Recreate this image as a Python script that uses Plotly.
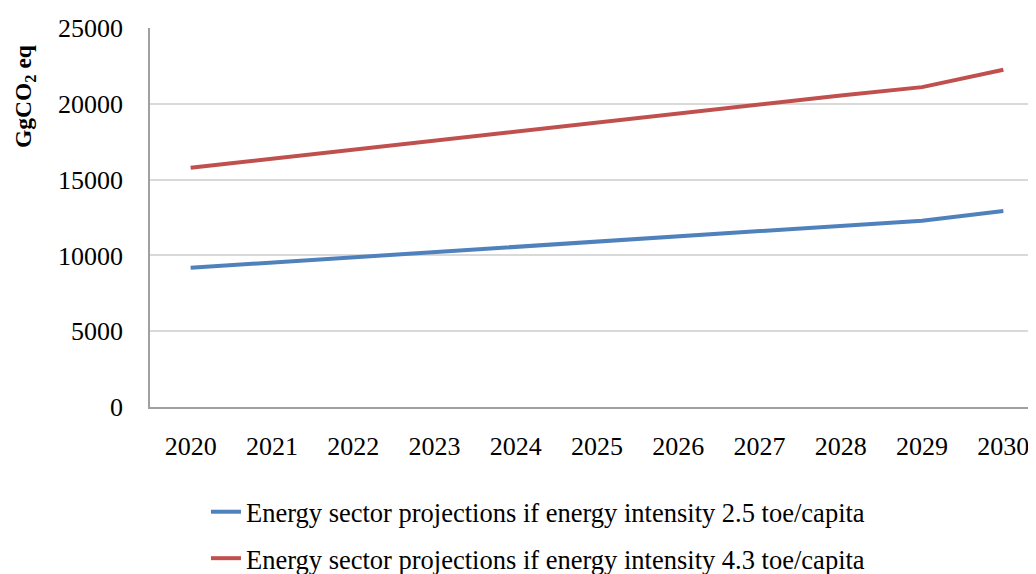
import plotly.graph_objects as go

years = ["2020", "2021", "2022", "2023", "2024", "2025", "2026", "2027", "2028", "2029", "2030"]
low_intensity = [9180, 9520, 9860, 10200, 10550, 10890, 11240, 11590, 11940, 12290, 12930]
high_intensity = [15780, 16380, 16980, 17590, 18200, 18800, 19400, 19990, 20550, 21100, 22250]
series_names = [
    "Energy sector projections if energy intensity 2.5 toe/capita",
    "Energy sector projections if energy intensity 4.3 toe/capita",
]
y_ticks = [0, 5000, 10000, 15000, 20000, 25000]

FONT = "Liberation Serif, Times New Roman, serif"

fig = go.Figure()
fig.add_trace(go.Scatter(x=years, y=low_intensity, mode="lines", name=series_names[0],
                         legendgroup="a", line=dict(color="#4f81bd", width=4)))
fig.add_trace(go.Scatter(x=years, y=high_intensity, mode="lines", name=series_names[1],
                         legendgroup="b", line=dict(color="#c0504d", width=4)))

fig.update_layout(
    width=1036, height=574,
    margin=dict(l=142, r=0, t=20, b=174),
    paper_bgcolor="white", plot_bgcolor="white",
    font=dict(family=FONT, size=26, color="black"),
    showlegend=True,
    legend=dict(x=0.0626, xanchor="left", y=-0.213, yanchor="top",
                font=dict(family=FONT, size=26.5, color="black"),
                tracegroupgap=9, bgcolor="rgba(0,0,0,0)"),
    xaxis=dict(type="category", range=[-0.5, 10.5], showgrid=False,
               showline=True, linecolor="#a0a0a0", linewidth=1.5,
               ticks="", ticklabelstandoff=15,
               tickfont=dict(family=FONT, size=26, color="black")),
    yaxis=dict(range=[0, 25000], tickvals=y_ticks, tickformat="d", showgrid=True,
               gridcolor="#d9d9d9", gridwidth=1.5, zeroline=False,
               showline=True, linecolor="#a0a0a0", linewidth=1.5,
               ticks="", ticklabelstandoff=20,
               tickfont=dict(family=FONT, size=26, color="black")),
    annotations=[dict(text="<b>GgCO<sub>2</sub> eq</b>", textangle=-90,
                      xref="paper", yref="paper", x=-0.1398, y=0.818,
                      xanchor="center", yanchor="middle", showarrow=False,
                      font=dict(family=FONT, size=23.5, color="black"))],
)

fig.write_html("out.html")
